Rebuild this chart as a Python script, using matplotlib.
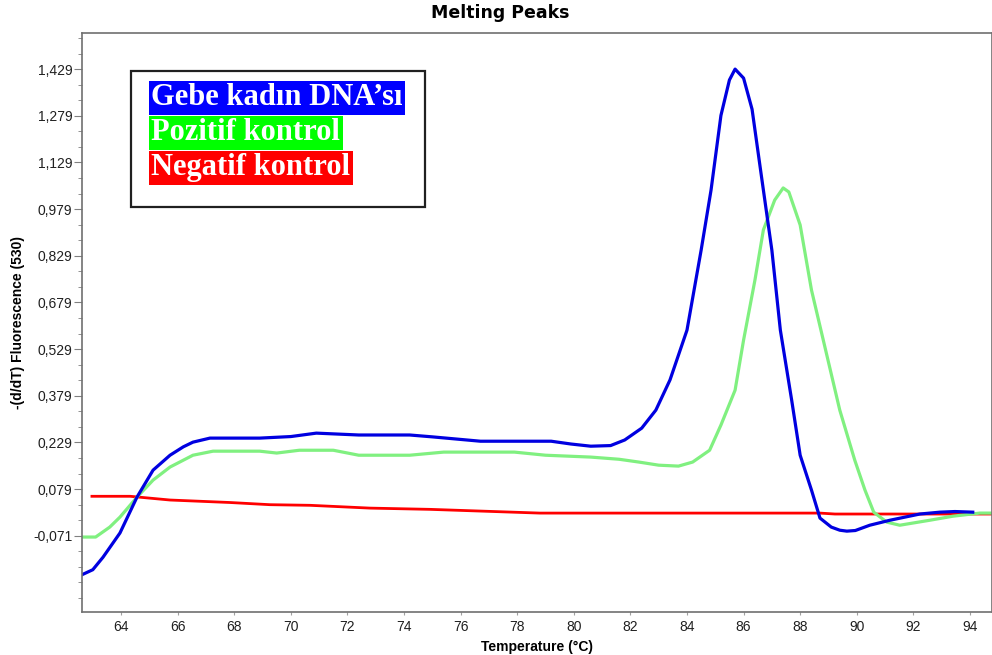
import matplotlib.pyplot as plt
from matplotlib.ticker import FixedLocator, FuncFormatter
from matplotlib.patches import Rectangle

# Melting peak curves (temperature in degC, -(d/dT) fluorescence)
temp_blue = [62.62, 63.0, 63.36, 63.96, 64.56, 65.13, 65.73, 66.2, 66.54, 67.14, 68.9, 70.0,
             70.9, 72.4, 74.2, 75.0, 76.7, 79.2, 79.9, 80.6, 81.3, 81.8, 82.4, 82.9, 83.4,
             84.0, 84.5, 84.85, 85.2, 85.5, 85.7, 86.0, 86.3, 86.6, 87.0, 87.3, 87.7, 88.0,
             88.4, 88.7, 89.1, 89.4, 89.65, 89.95, 90.46, 91.17, 92.23, 92.94, 93.47, 94.1]
fluo_blue = [-0.196, -0.180, -0.140, -0.062, 0.053, 0.140, 0.188, 0.215, 0.230, 0.243, 0.243, 0.248,
             0.259, 0.253, 0.253, 0.247, 0.233, 0.233, 0.224, 0.217, 0.219, 0.237, 0.275, 0.333, 0.430,
             0.590, 0.847, 1.040, 1.280, 1.394, 1.429, 1.400, 1.300, 1.105, 0.847, 0.590, 0.365, 0.188,
             0.076, -0.014, -0.043, -0.053, -0.056, -0.054, -0.037, -0.021, -0.001, 0.005, 0.007, 0.005]

temp_green = [62.62, 63.1, 63.6, 63.96, 64.56, 65.13, 65.73, 66.54, 67.25, 68.9, 69.5, 70.3,
              71.5, 72.4, 74.2, 75.4, 77.9, 79.0, 80.6, 81.6, 82.3, 83.0, 83.7, 84.2, 84.8,
              85.2, 85.7, 86.0, 86.4, 86.7, 87.1, 87.4, 87.6, 88.0, 88.4, 88.9, 89.4, 89.93,
              90.29, 90.6, 91.06, 91.52, 92.58, 93.40, 94.35, 94.78]
fluo_green = [-0.075, -0.075, -0.043, -0.011, 0.053, 0.108, 0.150, 0.188, 0.201, 0.201, 0.195, 0.204,
              0.204, 0.188, 0.188, 0.198, 0.198, 0.188, 0.182, 0.175, 0.166, 0.156, 0.153, 0.166, 0.204,
              0.285, 0.397, 0.558, 0.750, 0.912, 1.008, 1.047, 1.034, 0.928, 0.719, 0.526, 0.333, 0.172,
              0.076, 0.005, -0.027, -0.037, -0.021, -0.008, 0.002, 0.002]

temp_red = [62.97, 64.32, 65.02, 65.73, 66.79, 67.85, 69.26, 70.68, 72.80, 74.92, 78.80, 88.70,
            89.23, 94.78]
fluo_red = [0.056, 0.056, 0.050, 0.044, 0.040, 0.036, 0.029, 0.027, 0.018, 0.014, 0.002, 0.002,
            -0.001, -0.001]

y_ticks = [-0.071, 0.079, 0.229, 0.379, 0.529, 0.679, 0.829, 0.979, 1.129, 1.279, 1.429]
x_ticks = [64, 66, 68, 70, 72, 74, 76, 78, 80, 82, 84, 86, 88, 90, 92, 94]
legend_labels = ["Gebe kadın DNA’sı", "Pozitif kontrol", "Negatif kontrol"]

fig = plt.figure(figsize=(9.92, 6.55), dpi=100)
ax = fig.add_axes([0.0827, 0.0656, 0.9173, 0.884])

ax.plot(temp_red, fluo_red, color='#ff0000', lw=2.0)
ax.plot(temp_green, fluo_green, color='#80f080', lw=2.3)
ax.plot(temp_blue, fluo_blue, color='#0000e0', lw=2.3)

ax.set_xlim(62.62, 94.78)
ax.set_ylim(-0.316, 1.545)

ax.yaxis.set_major_locator(FixedLocator(y_ticks))
minor = [t + d for t in [-0.221] + y_ticks for d in (0.05, 0.10)] + [-0.221, -0.271]
ax.yaxis.set_minor_locator(FixedLocator([m for m in minor if m < 1.54]))
ax.yaxis.set_major_formatter(FuncFormatter(lambda v, p: f"{v:.3f}".replace('.', ',')))
ax.xaxis.set_major_locator(FixedLocator(x_ticks))

ax.tick_params(axis='y', which='major', length=6, color='#808080', labelsize=10, pad=1)
ax.tick_params(axis='y', which='minor', length=3, color='#808080')
ax.tick_params(axis='x', which='major', length=2, color='#a0a0a0', labelsize=10, pad=4)
for lab in ax.get_xticklabels() + ax.get_yticklabels():
    lab.set_fontfamily(['Liberation Sans', 'DejaVu Sans'])
    lab.set_color('#202020')

for s in ax.spines.values():
    s.set_color('#707070')
    s.set_linewidth(1.2)

ax.set_xlabel('Temperature (°C)', fontsize=10, fontweight='bold',
              family=['Liberation Sans', 'DejaVu Sans'], labelpad=4)
ax.set_ylabel('-(d/dT) Fluorescence (530)', fontsize=10, fontweight='bold',
              family=['Liberation Sans', 'DejaVu Sans'], labelpad=6)
fig.text(0.504, 0.980, 'Melting Peaks', ha='center', va='center', fontsize=12.5,
         fontweight='bold', family='DejaVu Sans')

# legend box drawn as in the original software export
ax.add_patch(Rectangle((0.0538, 0.6995), 0.3232, 0.2345, transform=ax.transAxes,
                       facecolor='white', edgecolor='#202020', lw=1.6, zorder=5))
bg_colors = ['#0000ff', '#00ff00', '#ff0000']
for i, (lab, c) in enumerate(zip(legend_labels, bg_colors)):
    ax.text(0.0762, 0.888 - i * 0.0605, lab, transform=ax.transAxes, ha='left', va='center',
            fontsize=22, fontweight='bold', color='white', family=['Liberation Serif', 'DejaVu Serif'],
            bbox=dict(facecolor=c, edgecolor='none', pad=1.8), zorder=6)

fig.savefig('out.png', dpi=100)
